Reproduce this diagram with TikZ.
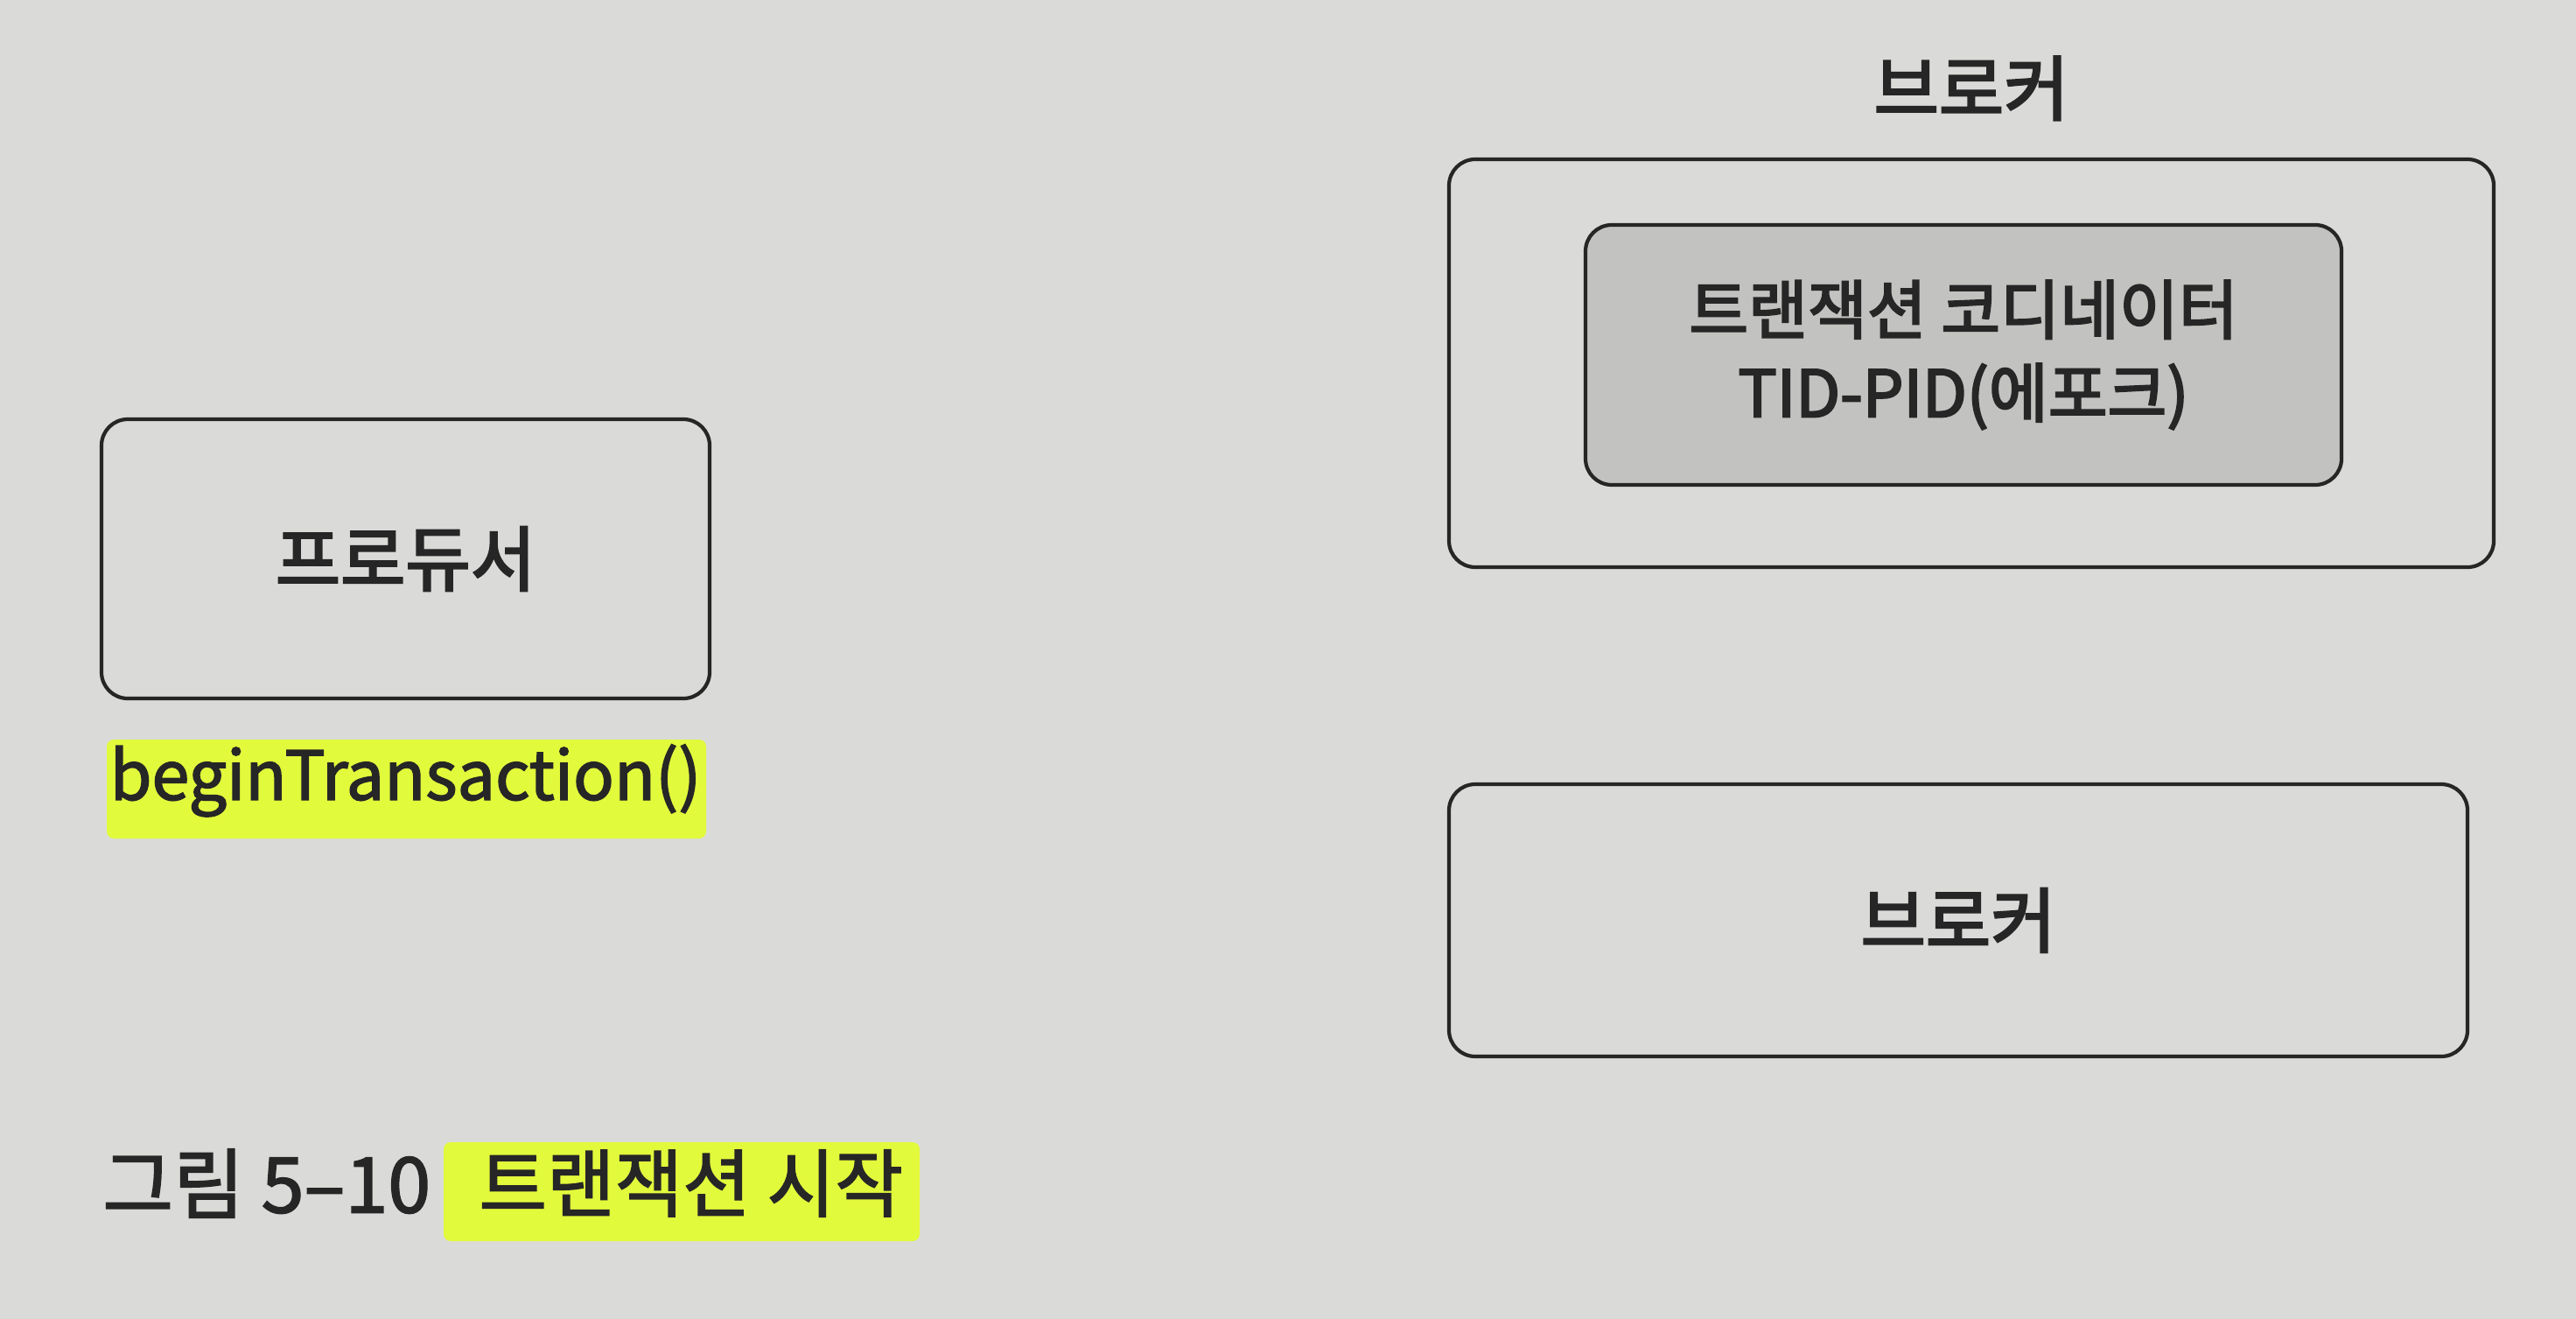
\documentclass[tikz,border=0pt]{standalone}
\usepackage{fontspec}
\setmainfont{Noto Sans CJK KR}
\newfontfamily\labelfont[FakeBold=3]{Noto Sans CJK KR}
\newfontfamily\capfont[FakeBold=2]{Noto Sans CJK KR}
\usepackage{xcolor}
\usetikzlibrary{positioning,calc}

\definecolor{paper}{HTML}{DADBD8}
\definecolor{marker}{HTML}{E2FA3C}
\definecolor{coordfill}{HTML}{C2C2C0}

\tikzset{
    box/.style={draw=black!85, line width=1.2pt, rounded corners=0.3cm},
    boxtext/.style={font=\labelfont\fontsize{23}{26}\selectfont, text=black!85},
    hilite/.style={fill=marker, rounded corners=0.08cm}
}

\begin{document}
\begin{tikzpicture}
    % page background
    \fill[paper] (0,0) rectangle (29.44,-15.07);
    \useasboundingbox (0,0) rectangle (29.44,-15.07);

    % producer
    \node[box, boxtext, minimum width=6.95cm, minimum height=3.19cm] (producer) at (4.635,-6.385) {프로듀서};
    \fill[hilite] (1.22,-8.45) rectangle (8.07,-9.58);
    \node[boxtext, font=\capfont\fontsize{22}{24}\selectfont, below=0.38cm of producer] (begin) {beginTransaction()};

    % broker with coordinator
    \node[box, minimum width=11.94cm, minimum height=4.66cm] (broker) at (22.53,-4.15) {};
    \node[boxtext, above=0.3cm of broker] (brokername) {브로커};
    \node[box, fill=coordfill, boxtext, font=\labelfont\fontsize{21}{27}\selectfont, align=center,
          minimum width=8.64cm, minimum height=2.97cm] (coordinator) at (22.44,-4.055)
          {트랜잭션 코디네이터\\TID-PID(에포크)};

    % second broker
    \node[box, boxtext, minimum width=11.64cm, minimum height=3.11cm] (brokertwo) at (22.38,-10.515) {브로커};

    % caption
    \fill[hilite] (5.07,-13.05) rectangle (10.51,-14.18);
    \node[boxtext, font=\capfont\fontsize{25}{28}\selectfont, anchor=west] (fignum) at (1.05,-13.52) {그림 5–10};
    \node[boxtext, font=\capfont\fontsize{24}{28}\selectfont, anchor=west] (figtitle) at (5.35,-13.52) {트랜잭션 시작};
\end{tikzpicture}
\end{document}
